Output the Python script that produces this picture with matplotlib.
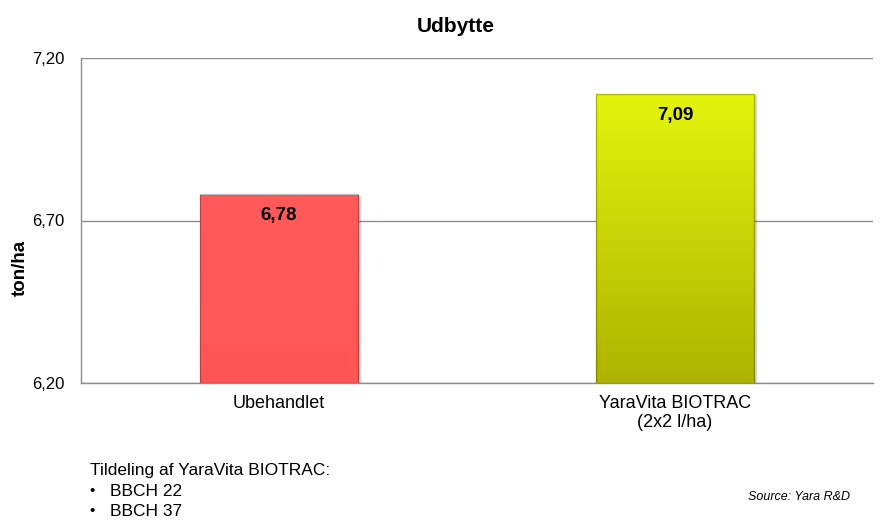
import numpy as np
import matplotlib.pyplot as plt
from matplotlib.colors import LinearSegmentedColormap

plt.rcParams["font.family"] = ["Liberation Sans", "DejaVu Sans"]

categories = ["Ubehandlet", "YaraVita BIOTRAC\n(2x2 l/ha)"]
values = [6.78, 7.09]
value_labels = ["6,78", "7,09"]
y_ticks = [6.20, 6.70, 7.20]
y_tick_labels = ["6,20", "6,70", "7,20"]
# top / bottom colour of each bar's fill
bar_colors = [("#FF5A5A", "#FF5555"), ("#E4F40C", "#AFB300")]

fig = plt.figure(figsize=(8.85, 5.31), dpi=100)
ax = fig.add_axes([81 / 885, 1 - 383 / 531, 792 / 885, 325 / 531])

x = np.arange(len(categories))
ymin, ymax = y_ticks[0], y_ticks[-1]
bars = ax.bar(x, [v - ymin for v in values], bottom=ymin, width=0.4,
              color="none", edgecolor="none", zorder=3)

for bar, (top_c, bot_c), lab in zip(bars, bar_colors, value_labels):
    x0, y0 = bar.get_x(), bar.get_y()
    w, h = bar.get_width(), bar.get_height()
    # drop shadow
    ax.add_patch(plt.Rectangle((x0 + 0.006, y0), w, h - 0.004, color="#000000",
                               alpha=0.15, zorder=2, linewidth=0))
    cmap = LinearSegmentedColormap.from_list("g", [bot_c, top_c])
    grad = np.linspace(0, 1, 256).reshape(-1, 1)
    im = ax.imshow(grad, cmap=cmap, aspect="auto", origin="lower",
                   extent=[x0, x0 + w, y0, y0 + h], zorder=3)
    rect = plt.Rectangle((x0, y0), w, h, facecolor="none",
                         edgecolor="#00000040", linewidth=1.0, zorder=4)
    ax.add_patch(rect)
    im.set_clip_path(rect)
    ax.text(x0 + w / 2, y0 + h - 0.066, lab, ha="center", va="center",
            fontsize=13.5, fontweight="bold", zorder=5)

ax.set_xlim(-0.5, 1.5)
ax.set_ylim(ymin, ymax)
ax.set_yticks(y_ticks)
ax.set_yticklabels(y_tick_labels, fontsize=12)
ax.set_xticks(x)
ax.set_xticklabels(categories, fontsize=13, linespacing=1.1)
ax.tick_params(axis="both", length=0, pad=12)
ax.tick_params(axis="x", pad=9)
ax.yaxis.grid(True, color="#8C8C8C", linewidth=1.0, zorder=1)
ax.set_axisbelow(True)
for s in ["top", "right"]:
    ax.spines[s].set_visible(False)
ax.spines["left"].set_color("#8C8C8C")
ax.spines["left"].set_linewidth(1.0)
ax.spines["bottom"].set_color("#8C8C8C")
ax.spines["bottom"].set_linewidth(1.0)

fig.text(456 / 885, 1 - 26 / 531, "Udbytte", ha="center", va="center",
         fontsize=15, fontweight="bold")
fig.text(20 / 885, 1 - 268 / 531, "ton/ha", ha="center", va="center",
         rotation=90, fontsize=13.5, fontweight="bold")

fig.text(90 / 885, 1 - 470 / 531, "Tildeling af YaraVita BIOTRAC:",
         ha="left", va="center", fontsize=12.5)
for yy, t in [(491, "BBCH 22"), (511, "BBCH 37")]:
    fig.text(89 / 885, 1 - yy / 531, "\u2022", ha="left", va="center", fontsize=11)
    fig.text(110 / 885, 1 - yy / 531, t, ha="left", va="center", fontsize=12.5)

fig.text(850 / 885, 1 - 497 / 531, "Source: Yara R&D", ha="right", va="center",
         fontsize=9, style="italic")

fig.savefig("out.png", dpi=100)
